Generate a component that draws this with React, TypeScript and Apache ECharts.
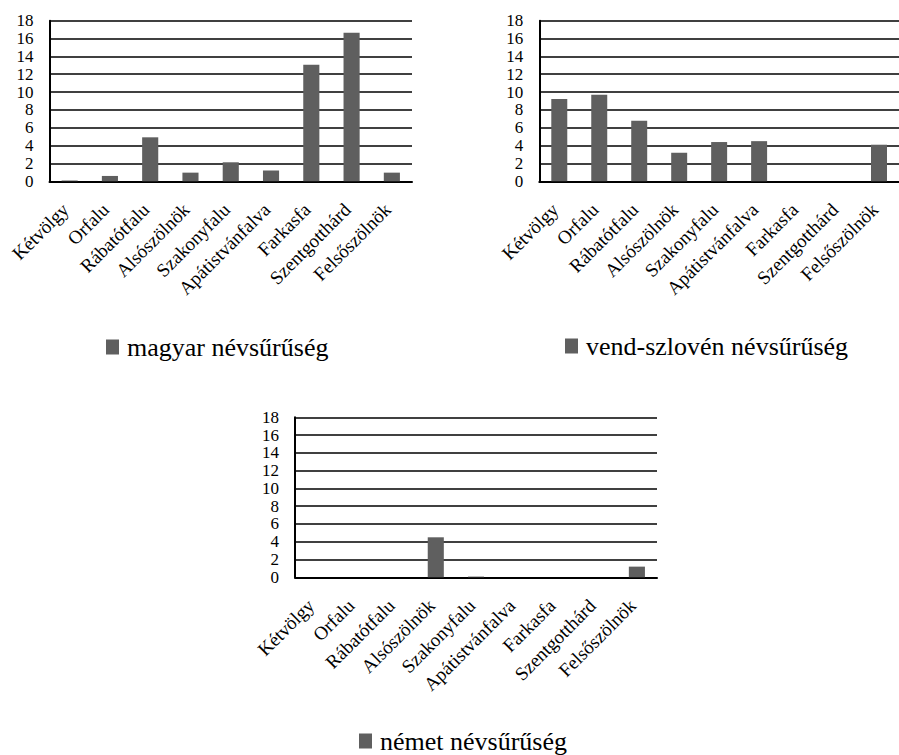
import React, { useEffect, useRef } from "react";
import * as echarts from "echarts";

const categories = [
  "Kétvölgy",
  "Orfalu",
  "Rábatótfalu",
  "Alsószölnök",
  "Szakonyfalu",
  "Apátistvánfalva",
  "Farkasfa",
  "Szentgotthárd",
  "Felsőszölnök",
];

const magyarValues = [0.08, 0.6, 4.93, 0.97, 2.13, 1.2, 13.07, 16.65, 0.97];
const vendValues = [9.22, 9.71, 6.8, 3.2, 4.4, 4.5, 0, 0, 4.1];
const nemetValues = [0, 0, 0, 4.5, 0.08, 0, 0, 0, 1.2];

const seriesNames = ["magyar névsűrűség", "vend-szlovén névsűrűség", "német névsűrűség"];
const yTicks = [0, 2, 4, 6, 8, 10, 12, 14, 16, 18];

const FONT = "Liberation Serif";
const BAR = "#5f5f5f";

export default function App() {
  const ref = useRef<HTMLDivElement>(null);
  useEffect(() => {
    if (!ref.current) return;
    const chart = echarts.init(ref.current, null, { renderer: "svg" });
    const grids = [
      { left: 49.5, top: 20.7, width: 362.5, height: 160.6 },
      { left: 539.3, top: 20.7, width: 363, height: 160.6 },
      { left: 295, top: 417.3, width: 362, height: 160 },
    ];
    const allValues = [magyarValues, vendValues, nemetValues];
    const legendPos = [
      { left: 106, top: 334 },
      { left: 565, top: 333 },
      { left: 359, top: 728 },
    ];
    const option: any = {
      animation: false,
      backgroundColor: "#fff",
      textStyle: { fontFamily: FONT },
      grid: grids.map((g) => ({ ...g, containLabel: false })),
      legend: seriesNames.map((n, i) => ({
        data: [n],
        left: legendPos[i].left,
        top: legendPos[i].top,
        padding: 0,
        icon: "rect",
        itemWidth: 13,
        itemHeight: 15,
        textStyle: {
          fontFamily: FONT,
          fontSize: 26,
          fontWeight: "normal",
          color: "#000",
          lineHeight: 26,
          padding: [0, 0, 0, 3],
        },
      })),
      xAxis: grids.map((_, i) => ({
        type: "category",
        gridIndex: i,
        data: categories,
        axisLine: { show: true, lineStyle: { color: "#000", width: 2 } },
        axisTick: { show: false },
        axisLabel: {
          interval: 0,
          rotate: 45,
          margin: 21,
          padding: [0, 6, 0, 0],
          fontFamily: FONT,
          fontSize: 19,
          color: "#000",
        },
        splitLine: { show: false },
      })),
      yAxis: grids.map((_, i) => ({
        type: "value",
        gridIndex: i,
        min: yTicks[0],
        max: yTicks[yTicks.length - 1],
        interval: 2,
        axisLine: { show: true, lineStyle: { color: "#000", width: 2 } },
        axisTick: { show: false },
        axisLabel: {
          margin: 16,
          fontFamily: FONT,
          fontSize: 17,
          color: "#000",
        },
        splitLine: { show: true, lineStyle: { color: "#000", width: 1.5 } },
      })),
      series: seriesNames.map((n, i) => ({
        name: n,
        type: "bar",
        xAxisIndex: i,
        yAxisIndex: i,
        data: allValues[i],
        barWidth: "40%",
        itemStyle: { color: BAR },
      })),
    };
    chart.setOption(option);
    return () => chart.dispose();
  }, []);
  return (
    <div
      ref={ref}
      style={{ position: "absolute", left: 0, top: 0, width: 899, height: 755 }}
    />
  );
}
